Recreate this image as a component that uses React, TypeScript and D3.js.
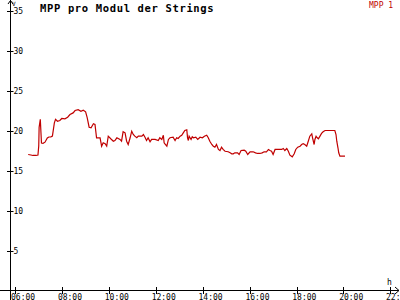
import React from "react";
import * as d3 from "d3";

const times: string[] = [
  "06:33","06:40","06:45","06:53","06:58","07:00","07:01","07:04","07:07","07:11",
  "07:16","07:22","07:26","07:31","07:35","07:40","07:43","07:48","07:54","07:59",
  "08:07","08:14","08:20","08:28","08:33","08:41","08:48","08:54","09:00","09:04",
  "09:09","09:14","09:20","09:24","09:28","09:37","09:41","09:45","09:50","09:54",
  "09:58","10:05","10:11","10:15","10:20","10:28","10:32","10:36","10:41","10:45",
  "10:49","10:54","10:58","11:02","11:06","11:11","11:15","11:24","11:28","11:32",
  "11:36","11:40","11:45","11:49","11:58","12:06","12:10","12:15","12:19","12:21",
  "12:23","12:28","12:32","12:36","12:44","12:49","12:53","12:57","13:02","13:06",
  "13:10","13:14","13:19","13:21","13:23","13:25","13:30","13:33","13:36","13:42",
  "13:47","13:53","13:59","14:04","14:10","14:14","14:18","14:23","14:27","14:31",
  "14:35","14:40","14:44","14:48","14:52","14:57","15:05","15:10","15:14","15:18",
  "15:22","15:29","15:33","15:38","15:46","15:50","15:55","16:01","16:09","16:15",
  "16:20","16:26","16:32","16:37","16:43","16:48","16:52","16:56","17:00","17:05",
  "17:13","17:22","17:26","17:30","17:35","17:39","17:43","17:49","17:54","17:58",
  "18:03","18:09","18:13","18:17","18:21","18:26","18:30","18:34","18:39","18:41",
  "18:45","18:47","18:50","18:53","18:56","19:00","19:04","19:08","19:13","19:38",
  "19:41","19:43","19:46","19:48","19:51","20:04"
];

const values: number[] = [
  17.0,16.94,16.88,16.88,16.94,18.06,20.4,21.4,18.44,18.4,
  18.54,19.06,19.19,19.21,19.29,20.96,21.4,21.16,21.25,21.5,
  21.46,21.66,22.0,22.2,22.5,22.6,22.4,22.54,22.34,21.6,
  20.41,20.34,20.84,20.75,19.09,19.09,18.04,18.46,18.34,18.04,
  19.29,18.94,18.66,18.75,19.09,18.88,18.66,19.84,19.71,18.66,
  18.25,19.09,19.91,19.5,19.29,19.09,19.29,19.29,19.5,19.16,
  18.75,19.09,18.59,18.88,18.88,18.75,19.09,18.88,19.41,18.46,
  18.34,18.04,18.88,19.09,19.16,18.75,19.09,19.0,19.29,19.41,
  19.71,20.0,20.09,19.09,18.75,19.29,18.88,19.21,19.09,19.16,
  18.88,19.16,19.09,19.29,19.41,19.09,18.66,18.25,18.04,17.91,
  18.25,17.63,17.5,17.91,17.63,17.41,17.34,17.21,17.09,17.09,
  17.21,17.21,17.0,17.5,17.54,17.41,17.0,17.34,17.34,17.21,
  17.13,17.13,17.21,17.34,17.34,17.63,17.5,17.41,17.0,17.63,
  17.63,17.63,17.75,17.5,17.75,17.41,16.91,16.71,17.09,17.63,
  17.91,18.04,18.25,18.34,18.25,18.04,18.66,19.29,19.59,19.09,
  18.25,18.88,19.29,19.09,18.96,19.29,19.63,19.84,20.0,20.0,
  19.5,18.66,17.84,17.21,16.79,16.79
];

const xTickHours: number[] = [6, 8, 10, 12, 14, 16, 18, 20, 22];
const yTickValues: number[] = [5, 10, 15, 20, 25, 30, 35];
const title = "MPP pro Modul der Strings";
const seriesName = "MPP 1";

const W = 400;
const H = 300;
const RED = "#c00000";
const FONT = "'DejaVu Sans Mono', monospace";

function toHours(t: string): number {
  const [h, m] = t.split(":").map(Number);
  return h + m / 60;
}
function fmt(h: number): string {
  return String(h).padStart(2, "0") + ":00";
}

export default function App() {
  const x = d3.scaleLinear().domain([6, 22]).range([15.3, 390.3]);
  const y = d3.scaleLinear().domain([0, 35]).range([290.5, 10.5]);
  const data = times.map((t, i) => ({ h: toHours(t), v: values[i] }));
  const line = d3
    .line<{ h: number; v: number }>()
    .x((d) => x(d.h))
    .y((d) => y(d.v));

  const axisX = 10.5;
  const axisY = 290.5;

  return (
    <svg
      width={W}
      height={H}
      style={{ position: "absolute", left: 0, top: 0, background: "#fff" }}
    >
      <rect x={0} y={0} width={W} height={H} fill="#fff" />
      {/* axes */}
      <line x1={axisX} y1={0} x2={axisX} y2={H} stroke="#000" strokeWidth={1} />
      <line x1={0} y1={axisY} x2={399} y2={axisY} stroke="#000" strokeWidth={1} />
      <path d={`M${axisX - 2.5},4 L${axisX},0.5 L${axisX + 2.5},4`} fill="none" stroke="#000" strokeWidth={1} />
      <path d={`M395,${axisY - 3.5} L399,${axisY} L395,${axisY + 3.5}`} fill="none" stroke="#000" strokeWidth={1} />
      {/* y ticks */}
      {yTickValues.map((v) => (
        <g key={"y" + v}>
          <line x1={7} x2={13.5} y1={Math.round(y(v)) + 0.5} y2={Math.round(y(v)) + 0.5} stroke="#000" strokeWidth={1} />
          <text x={13.5} y={y(v) + 3} fontFamily={FONT} fontSize={8} fill="#000">
            {v}
          </text>
        </g>
      ))}
      {/* x ticks */}
      {xTickHours.map((h) => (
        <g key={"x" + h}>
          <line x1={Math.round(x(h)) + 0.5} x2={Math.round(x(h)) + 0.5} y1={287} y2={294} stroke="#000" strokeWidth={1} />
          <text x={x(h) - 4.3} y={299.5} fontFamily={FONT} fontSize={8} fill="#000">
            {fmt(h)}
          </text>
        </g>
      ))}
      {/* axis unit labels */}
      <text x={12} y={5.5} fontFamily={FONT} fontSize={6} fill="#000">V</text>
      <text x={387} y={284.5} fontFamily={FONT} fontSize={8} fill="#000">h</text>
      {/* title */}
      <text x={40} y={11.5} fontFamily={FONT} fontSize={10.5} fontWeight="bold" letterSpacing={0.65} fill="#000">
        {title}
      </text>
      {/* legend */}
      <text x={369} y={8} fontFamily={FONT} fontSize={8} fill={RED}>
        {seriesName}
      </text>
      {/* series */}
      <path d={line(data) || ""} fill="none" stroke={RED} strokeWidth={1.2} />
    </svg>
  );
}
